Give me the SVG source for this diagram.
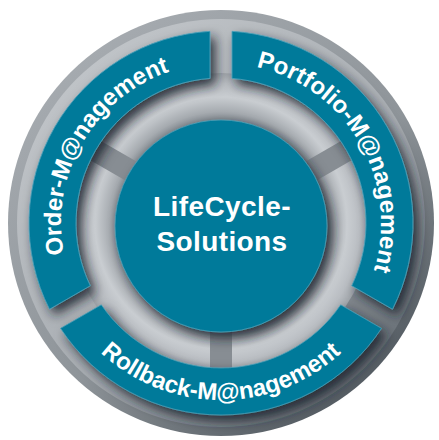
<svg xmlns="http://www.w3.org/2000/svg" xmlns:xlink="http://www.w3.org/1999/xlink" width="439" height="440" viewBox="0 0 439 440">
  <defs>
    <style>
      .seg { fill: #037a9a; stroke: #4d9fb8; stroke-width: 0.8; }
      .lbl { font-family: "Liberation Sans", Arial, Helvetica, sans-serif; font-weight: bold; fill: #ffffff; font-size: 24px; }
      .ctr { font-family: "Liberation Sans", Arial, Helvetica, sans-serif; font-weight: bold; fill: #ffffff; font-size: 28px; letter-spacing: 0.4px; text-anchor: middle; }
      .spoke { fill: #878d93; }
    </style>
    <linearGradient id="outerG" x1="0.15" y1="0.1" x2="0.85" y2="0.95">
      <stop offset="0" stop-color="#a6abb0"/>
      <stop offset="0.55" stop-color="#8e9499"/>
      <stop offset="1" stop-color="#4c545b"/>
    </linearGradient>
    <linearGradient id="bandG" x1="0.15" y1="0.1" x2="0.85" y2="0.95">
      <stop offset="0" stop-color="#c0c4c8"/>
      <stop offset="0.55" stop-color="#a9aeb3"/>
      <stop offset="1" stop-color="#5f676e"/>
    </linearGradient>
    <radialGradient id="torusG" cx="221" cy="223" r="150" gradientUnits="userSpaceOnUse">
      <stop offset="0.66" stop-color="#737b83"/>
      <stop offset="0.74" stop-color="#a5aaaf"/>
      <stop offset="0.84" stop-color="#c9cdd1"/>
      <stop offset="0.93" stop-color="#b9bdc2"/>
      <stop offset="1" stop-color="#a0a5aa"/>
    </radialGradient>
    <filter id="shadow" x="-30%" y="-30%" width="160%" height="160%">
      <feDropShadow dx="5" dy="6" stdDeviation="6" flood-color="#15222b" flood-opacity="0.85"/>
    </filter>
    <path id="seg" d="M -160.50 -105.37 A 192 192 0 0 1 160.50 -105.37 L 119.71 -81.81 A 145 145 0 0 0 -119.71 -81.81 Z"/>
    <path id="arcOrder" d="M 82.44 303 A 160 160 0 0 1 221 63"/>
    <path id="arcPortfolio" d="M 221 63 A 160 160 0 0 1 359.56 303"/>
    <path id="arcRollback" d="M 67.71 311.5 A 177 177 0 0 0 374.29 311.5"/>
  </defs>

  <rect width="439" height="440" fill="#ffffff"/>

  <g id="base">
    <circle cx="221" cy="223" r="213" fill="url(#outerG)"/>
    <circle cx="221" cy="223" r="204" fill="url(#bandG)"/>
    <circle cx="221" cy="223" r="150" fill="url(#torusG)"/>
    <rect class="spoke" x="104" y="-11" width="44" height="22" transform="translate(221,223) rotate(90)"/>
    <rect class="spoke" x="104" y="-11" width="44" height="22" transform="translate(221,223) rotate(210)"/>
    <rect class="spoke" x="104" y="-11" width="44" height="22" transform="translate(221,223) rotate(330)"/>
  </g>

  <g id="order-management">
    <g filter="url(#shadow)"><use xlink:href="#seg" href="#seg" class="seg" transform="translate(221,223) rotate(-60)"/></g>
    <text class="lbl"><textPath xlink:href="#arcOrder" href="#arcOrder" startOffset="50%" text-anchor="middle">Order-M@nagement</textPath></text>
  </g>

  <g id="portfolio-management">
    <g filter="url(#shadow)"><use xlink:href="#seg" href="#seg" class="seg" transform="translate(221,223) rotate(60)"/></g>
    <text class="lbl"><textPath xlink:href="#arcPortfolio" href="#arcPortfolio" startOffset="50%" text-anchor="middle">Portfolio-M@nagement</textPath></text>
  </g>

  <g id="rollback-management">
    <g filter="url(#shadow)"><use xlink:href="#seg" href="#seg" class="seg" transform="translate(221,223) rotate(180)"/></g>
    <text class="lbl"><textPath xlink:href="#arcRollback" href="#arcRollback" startOffset="50%" text-anchor="middle">Rollback-M@nagement</textPath></text>
  </g>

  <g id="lifecycle-solutions">
    <circle cx="221" cy="226" r="106" fill="#037a9a" stroke="#4d9fb8" stroke-width="0.8" filter="url(#shadow)"/>
    <text class="ctr" x="222" y="216">LifeCycle-</text>
    <text class="ctr" x="222" y="251">Solutions</text>
  </g>

  <g id="connectors"/>
</svg>
